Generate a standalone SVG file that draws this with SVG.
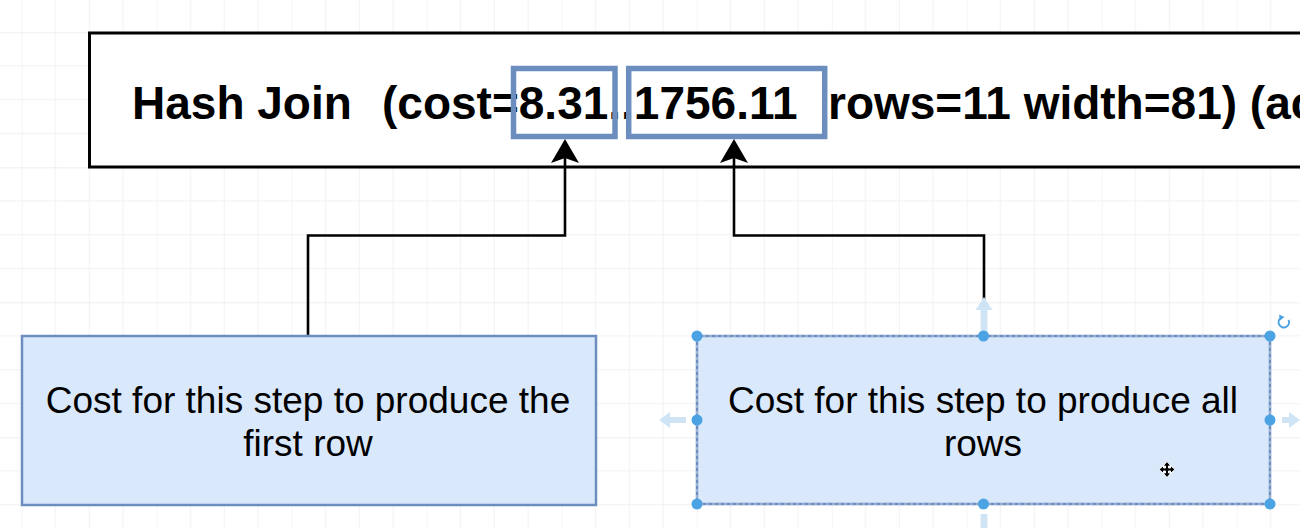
<svg xmlns="http://www.w3.org/2000/svg" width="1300" height="528" viewBox="0 0 1300 528">
<style>
.title{font-family:"Liberation Sans",Arial,sans-serif;font-weight:bold;font-size:46px;fill:#000}
.lbl{font-family:"Liberation Sans",Arial,sans-serif;font-size:37px;fill:#000;text-anchor:middle}
.hl{fill:none;stroke:#6c8ebf;stroke-width:5.5}
.note{fill:#dae8fc;stroke:#6c8ebf;stroke-width:2.5}
.conn{fill:none;stroke:#000;stroke-width:2.6}
.handle{fill:#4ba3e3}
.hint{fill:#cfe5f6}
</style>
<defs>
<pattern id="grid" patternUnits="userSpaceOnUse" x="21.75" y="32.3" width="135" height="135">
<path d="M33.75 0V135M67.5 0V135M101.25 0V135M0 33.75H135M0 67.5H135M0 101.25H135" stroke="#f1f1f1" stroke-width="1" fill="none"/>
<path d="M0 0V135" stroke="#ececec" stroke-width="1" fill="none"/>
<path d="M0 0H135" stroke="#e0e0e0" stroke-width="1" fill="none"/>
</pattern>
<marker id="arrow" viewBox="0 0 24 28" refX="13" refY="14" markerWidth="24" markerHeight="28" markerUnits="userSpaceOnUse" orient="auto">
<path d="M24 14L0 0L5 14L0 28Z" fill="#000"/>
</marker>
</defs>
<rect width="1300" height="528" fill="#fff"/>
<rect width="1300" height="528" fill="url(#grid)"/>

<g id="hash-join">
<rect x="89.5" y="33" width="1260" height="134" fill="#fff" stroke="#000" stroke-width="3"/>
<text class="title" y="119"><tspan x="132">Hash Join</tspan><tspan x="382">(cost=8.31..1756.11</tspan><tspan x="828">rows=11 width=81) (ac</tspan></text>
</g>
<g id="startup-cost">
<rect class="hl" x="513.5" y="68.5" width="101.5" height="68"/>
</g>
<g id="total-cost">
<rect class="hl" x="628.7" y="68.5" width="196" height="68"/>
</g>

<g id="connectors">
<path class="conn" d="M308 336V235.5H565V150" marker-end="url(#arrow)"/>
<path class="conn" d="M984 336V235.5H734V150" marker-end="url(#arrow)"/>
</g>

<g id="first-row-note">
<rect class="note" x="22" y="336" width="574" height="169"/>
<text class="lbl" x="308" y="413">Cost for this step to produce the</text>
<text class="lbl" x="308" y="456">first row</text>
</g>

<g id="all-rows-note">
<path class="hint" d="M659 420L670 412V417H686V423H670V428Z"/>
<path class="hint" d="M1300 420L1289 412V417H1282V423H1289V428Z"/>
<path class="hint" d="M984 297L975.5 310H980.5V334H987.5V310H992.5Z"/>
<path class="hint" d="M980.5 514H987.5V528H980.5Z"/>
<rect class="note" x="697" y="336" width="573" height="168"/>
<rect x="697" y="336" width="573" height="168" fill="none" stroke="#fff" stroke-width="1.2" stroke-dasharray="3 3" opacity="0.55"/>
<text class="lbl" x="983" y="413">Cost for this step to produce all</text>
<text class="lbl" x="983" y="456">rows</text>
<circle class="handle" cx="697" cy="336" r="5.5"/>
<circle class="handle" cx="983.5" cy="336" r="5.5"/>
<circle class="handle" cx="1270" cy="336" r="5.5"/>
<circle class="handle" cx="697" cy="420" r="5.5"/>
<circle class="handle" cx="1270" cy="420" r="5.5"/>
<circle class="handle" cx="697" cy="504" r="5.5"/>
<circle class="handle" cx="983.5" cy="504" r="5.5"/>
<circle class="handle" cx="1270" cy="504" r="5.5"/>
<path d="M1288.5 320A5.2 5.2 0 1 1 1281 317.8" fill="none" stroke="#4ba3e3" stroke-width="2"/>
<path d="M1279 314.5L1284.5 317L1280 320.5Z" fill="#4ba3e3"/>
<path d="M1167 461.5L1171 466H1168.5V468H1170.5V465.5L1175 469.5L1170.5 473.5V471H1168.5V473H1171L1167 477.5L1163 473H1165.5V471H1163.5V473.5L1159 469.5L1163.5 465.5V468H1165.5V466H1163Z" fill="#000" stroke="#fff" stroke-width="1"/>
</g>
</svg>
